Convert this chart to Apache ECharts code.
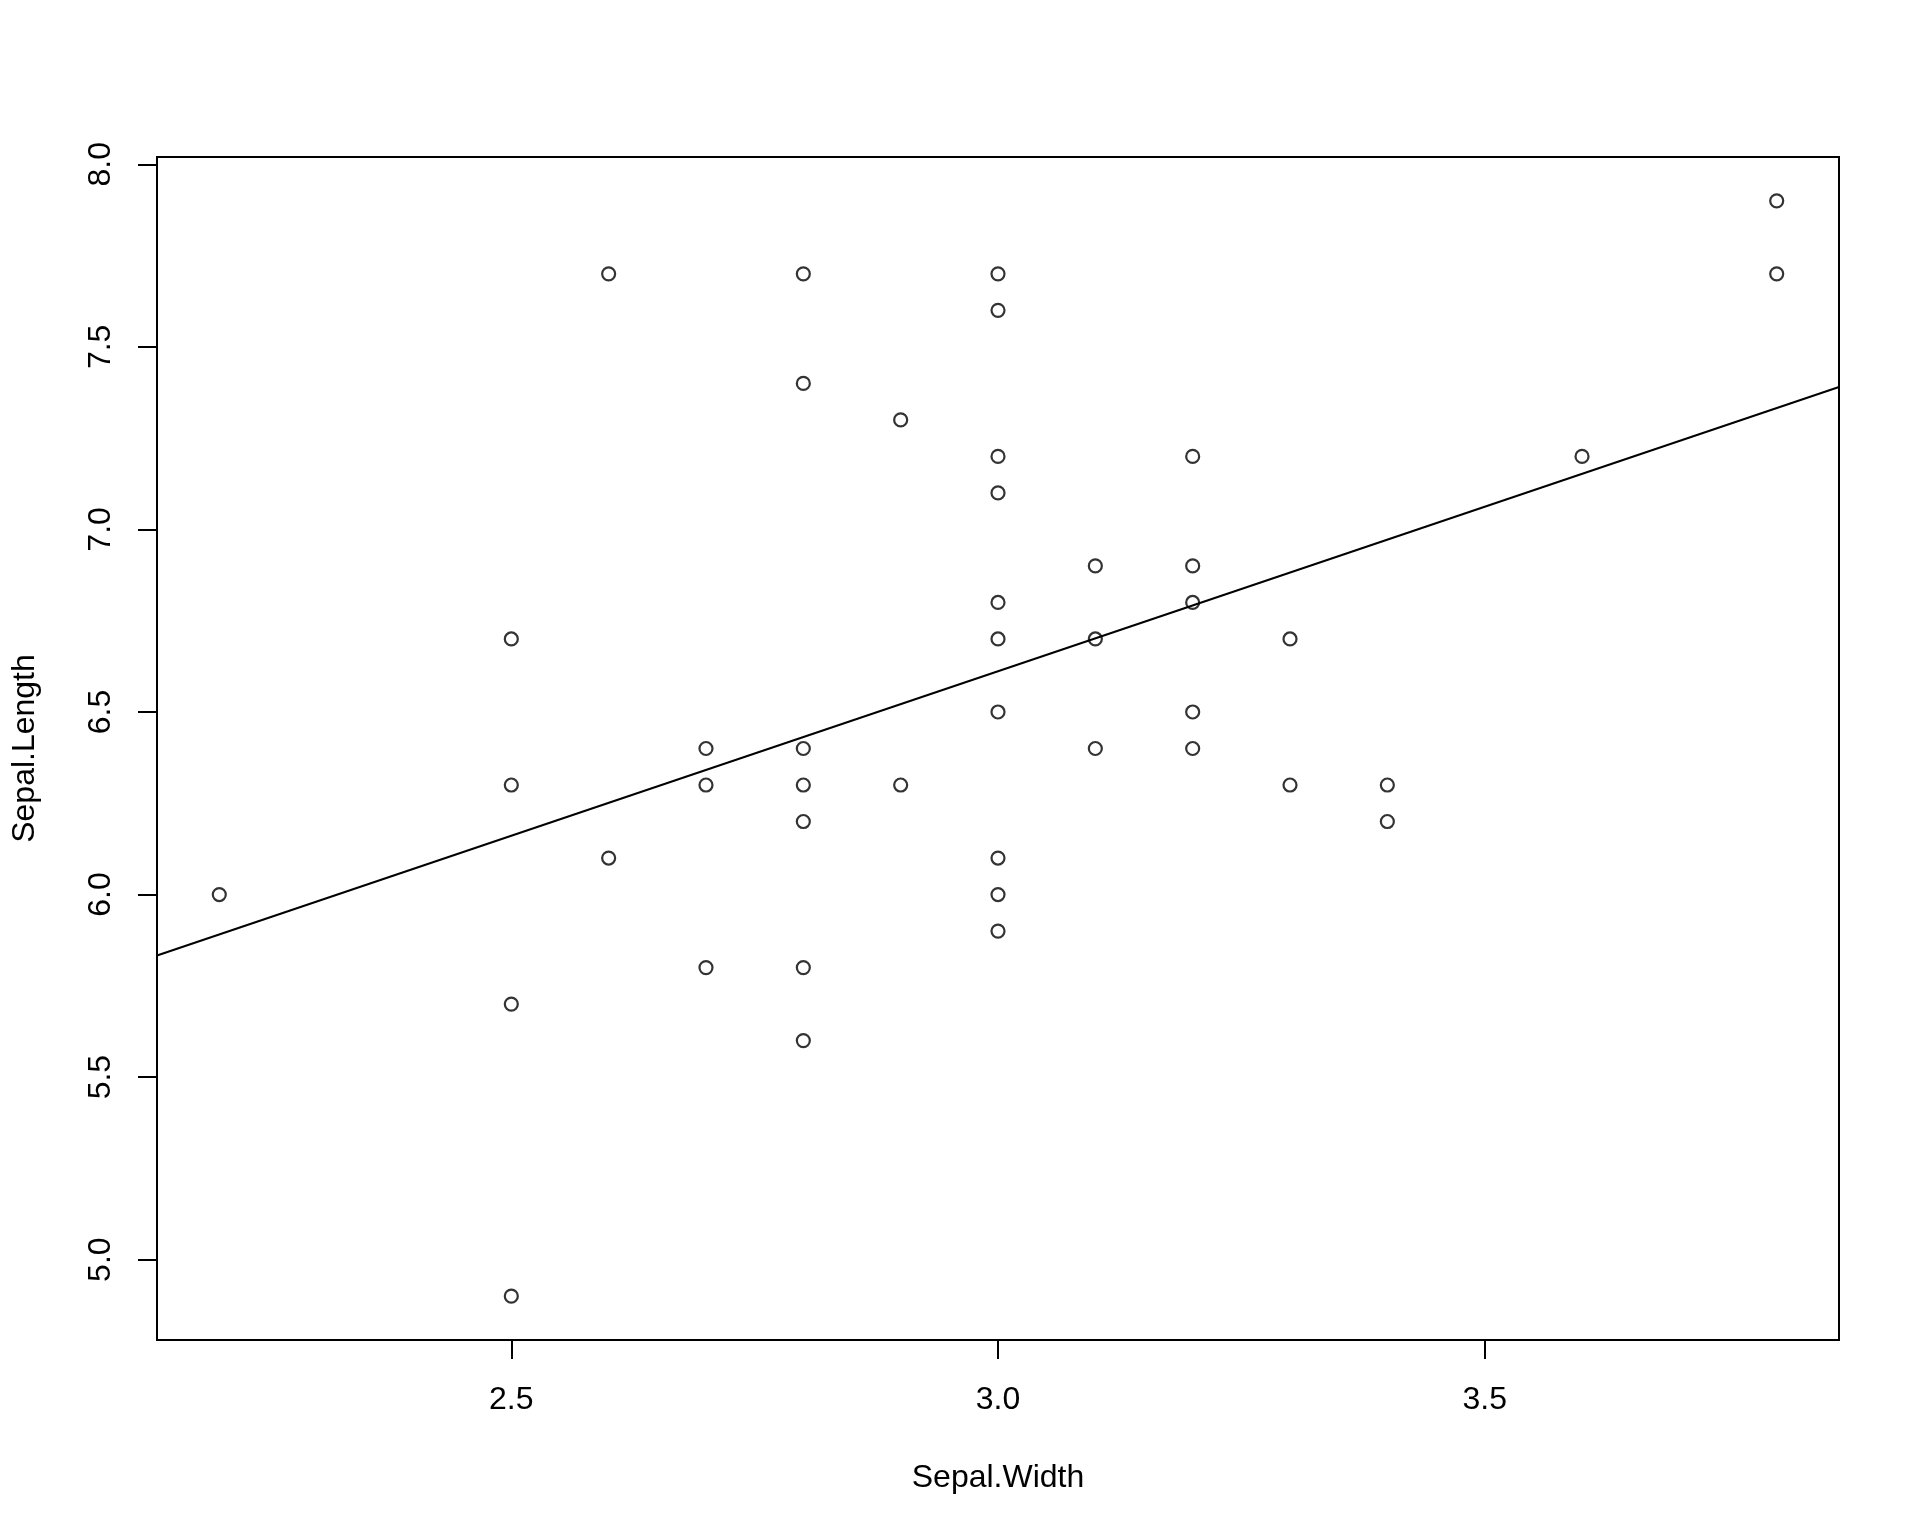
<!DOCTYPE html>
<html>
<head>
<meta charset="utf-8">
<script src="https://cdn.jsdelivr.net/npm/echarts@6/dist/echarts.min.js"></script>
<style>
html,body{margin:0;padding:0;background:#fff;}
#chart{width:1920px;height:1536px;}
</style>
</head>
<body>
<div id="chart"></div>
<script>
// Data
const sepalWidth  = [2.2, 2.5, 2.5, 2.5, 2.5, 2.6, 2.6, 2.7, 2.7, 2.7, 2.8, 2.8, 2.8, 2.8, 2.8, 2.8, 2.8, 2.9, 2.9, 3.0, 3.0, 3.0, 3.0, 3.0, 3.0, 3.0, 3.0, 3.0, 3.0, 3.1, 3.1, 3.1, 3.2, 3.2, 3.2, 3.2, 3.2, 3.3, 3.3, 3.4, 3.4, 3.6, 3.8, 3.8];
const sepalLength = [6.0, 6.7, 6.3, 5.7, 4.9, 7.7, 6.1, 6.4, 6.3, 5.8, 7.7, 7.4, 6.4, 6.3, 6.2, 5.8, 5.6, 7.3, 6.3, 7.7, 7.6, 7.2, 7.1, 6.8, 6.7, 6.5, 6.1, 6.0, 5.9, 6.9, 6.7, 6.4, 7.2, 6.9, 6.8, 6.5, 6.4, 6.7, 6.3, 6.3, 6.2, 7.2, 7.9, 7.7];
// Fitted line end points (read at the plot region edges)
const fitLineX = [2.136, 3.864];
const fitLineY = [5.833, 7.390];
// Axis limits and tick labels
const xLimits = [2.136, 3.864];
const yLimits = [4.78, 8.02];
const xTicks = [2.5, 3.0, 3.5];
const yTicks = [5.0, 5.5, 6.0, 6.5, 7.0, 7.5, 8.0];
const xTitle = 'Sepal.Width';
const yTitle = 'Sepal.Length';

const FONT = '"Liberation Sans", Arial, sans-serif';
const points = sepalWidth.map((x, i) => [x, sepalLength[i]]);
const fit = fitLineX.map((x, i) => [x, fitLineY[i]]);

const chart = echarts.init(document.getElementById('chart'), null, {renderer: 'canvas'});
chart.setOption({
  animation: false,
  backgroundColor: '#ffffff',
  grid: {
    left: 157, top: 157, right: 81, bottom: 196,
    show: true, borderColor: '#000', borderWidth: 2, backgroundColor: 'transparent',
    containLabel: false
  },
  xAxis: {
    type: 'value',
    min: xLimits[0], max: xLimits[1],
    name: xTitle, nameLocation: 'middle', nameGap: 122,
    nameTextStyle: {color: '#000', fontFamily: FONT, fontSize: 32},
    axisLine: {show: false},
    splitLine: {show: false},
    axisTick: {show: true, inside: false, length: 19, customValues: xTicks, lineStyle: {color: '#000', width: 2}},
    axisLabel: {show: true, customValues: xTicks, margin: 44, color: '#000', fontFamily: FONT, fontSize: 32,
      formatter: v => Number(v).toFixed(1)}
  },
  yAxis: {
    type: 'value',
    min: yLimits[0], max: yLimits[1],
    name: yTitle, nameLocation: 'middle', nameGap: 116, nameRotate: 90,
    nameTextStyle: {color: '#000', fontFamily: FONT, fontSize: 32},
    axisLine: {show: false},
    splitLine: {show: false},
    axisTick: {show: true, inside: false, length: 19, customValues: yTicks, lineStyle: {color: '#000', width: 2}},
    axisLabel: {show: true, customValues: yTicks, rotate: 90, margin: 40, color: '#000', fontFamily: FONT, fontSize: 32,
      formatter: v => Number(v).toFixed(1)}
  },
  series: [
    {
      type: 'scatter',
      data: points,
      symbol: 'circle',
      symbolSize: 13,
      itemStyle: {color: 'rgba(0,0,0,0)', borderColor: '#000', borderWidth: 2.2},
      emphasis: {disabled: true},
      z: 2
    },
    {
      type: 'line',
      data: fit,
      showSymbol: false,
      symbol: 'none',
      lineStyle: {color: '#000', width: 2},
      emphasis: {disabled: true},
      z: 3
    }
  ]
});
</script>
</body>
</html>
